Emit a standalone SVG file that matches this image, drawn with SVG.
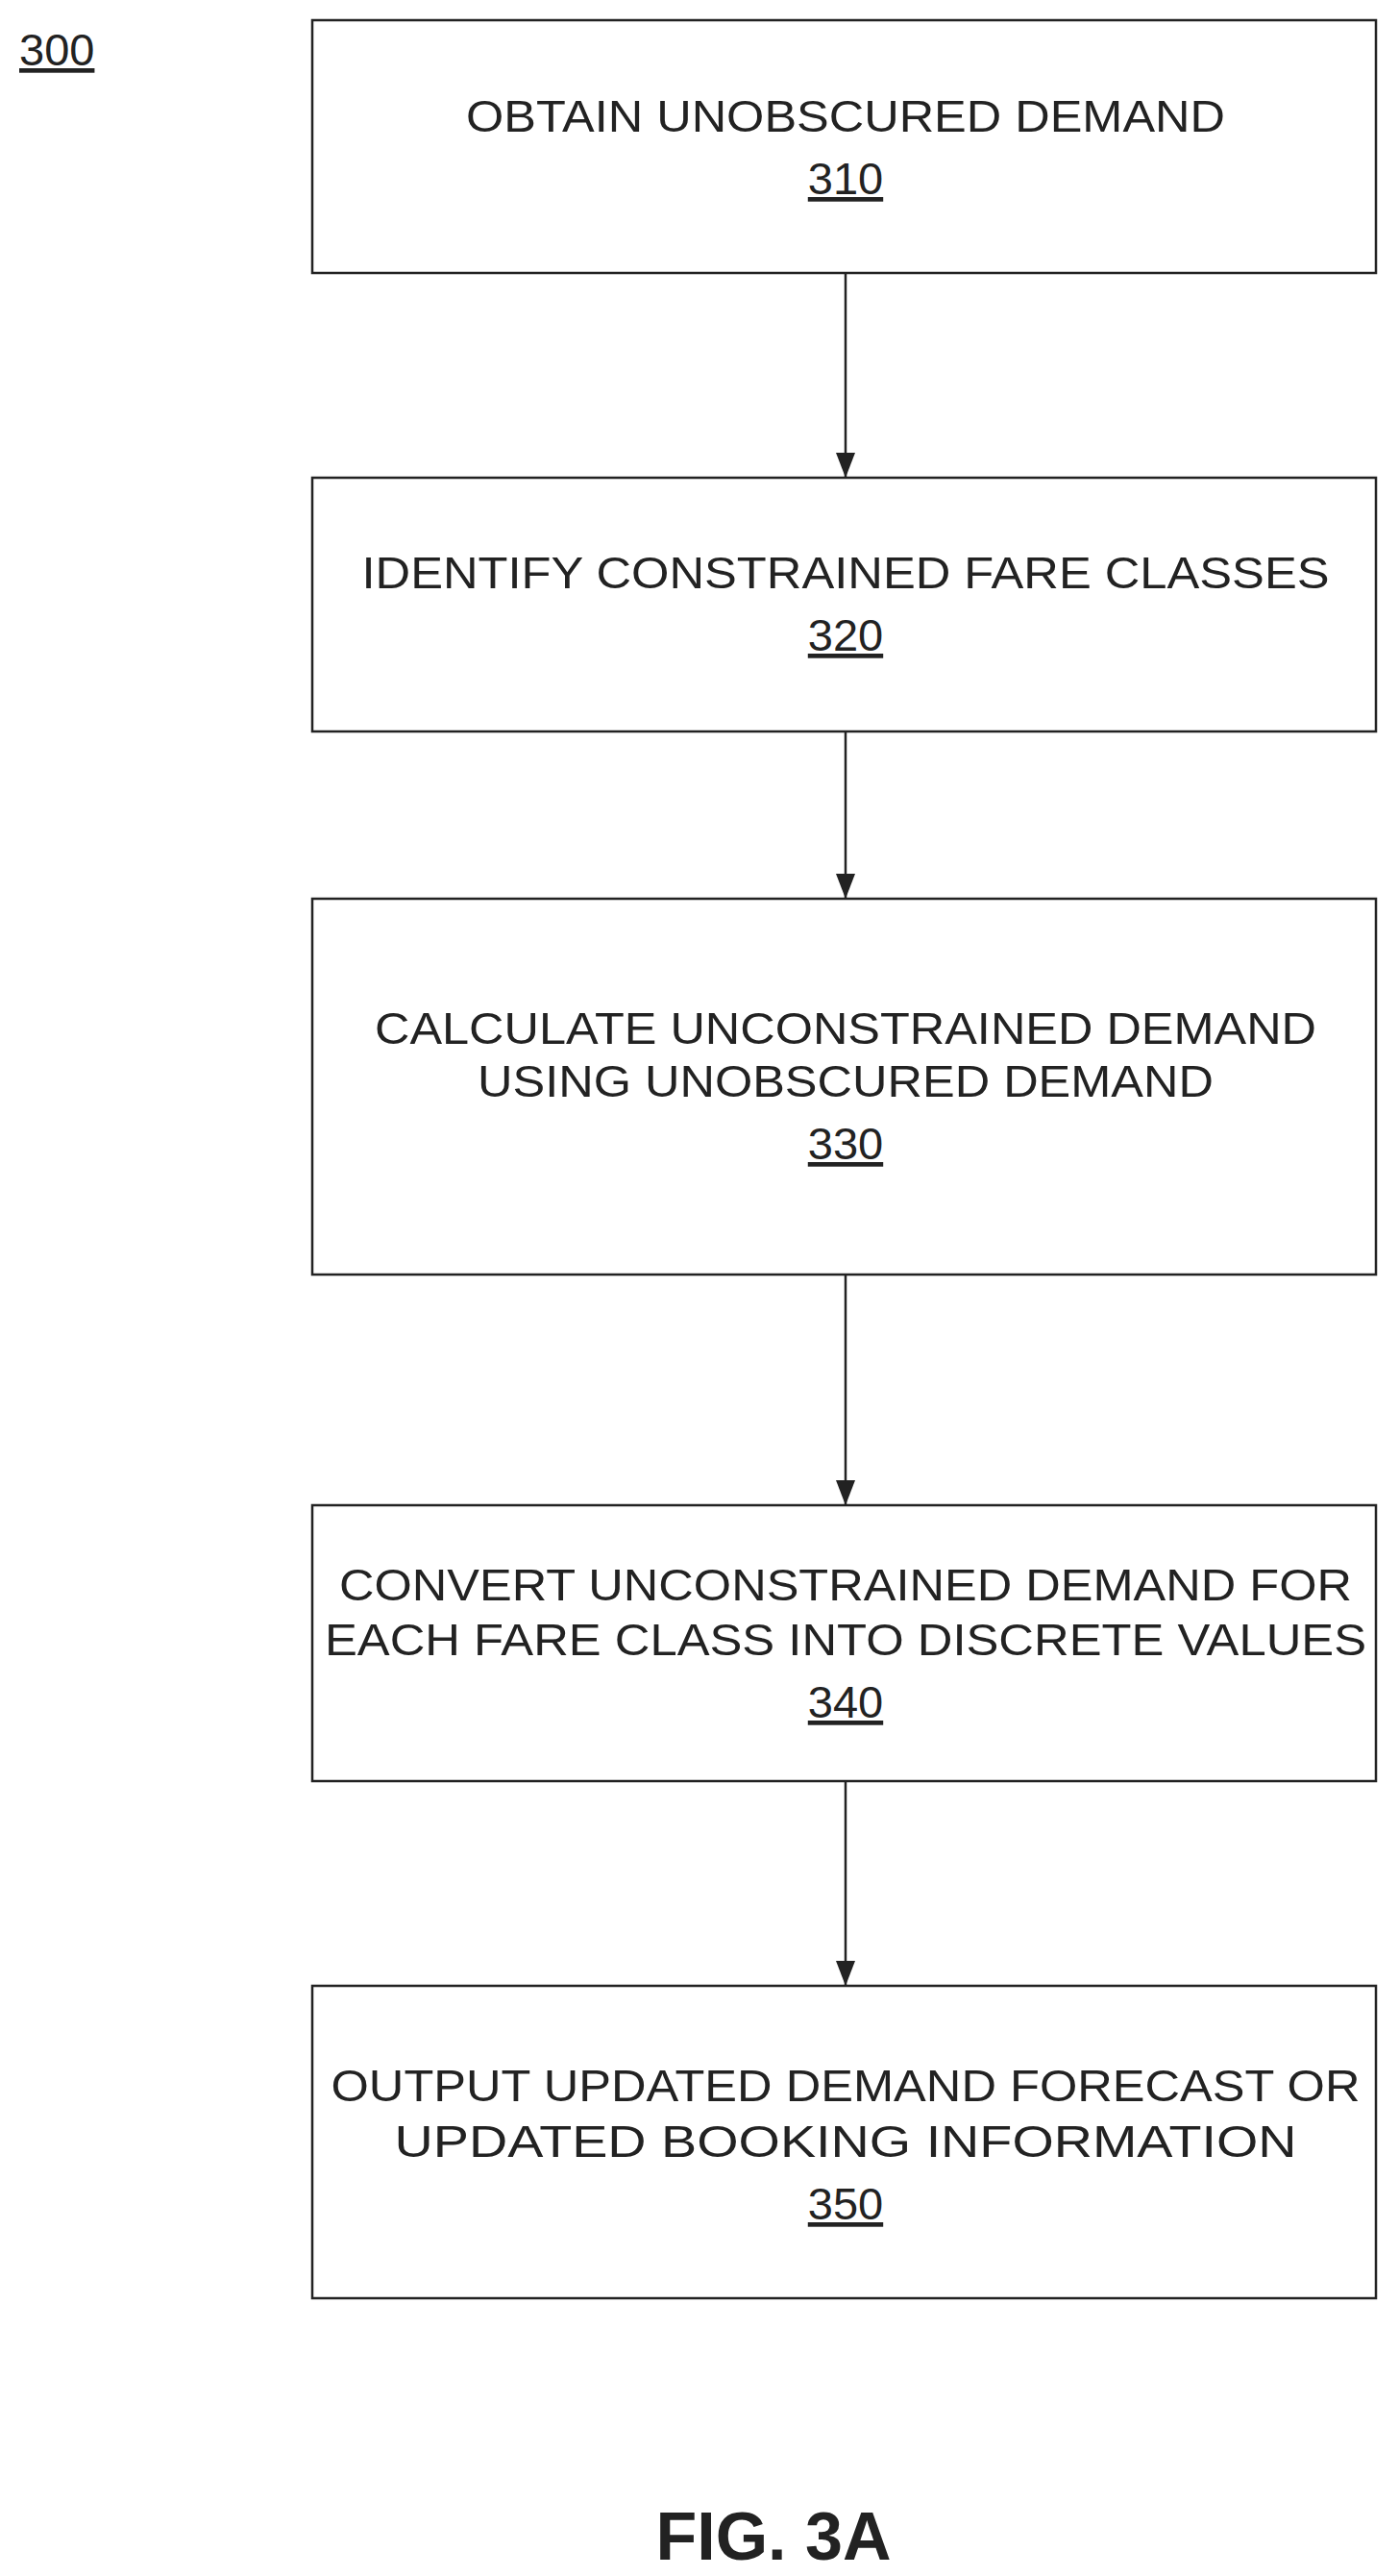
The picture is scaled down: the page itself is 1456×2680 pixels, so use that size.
<svg xmlns="http://www.w3.org/2000/svg" width="1456" height="2680" viewBox="0 0 1456 2680">
<style>
.b{fill:#fff;stroke:#222;stroke-width:2.5}
.t{font-family:"Liberation Sans",Arial,sans-serif;font-size:47px;fill:#222;text-anchor:middle}
.n{text-decoration:underline}
.c{stroke:#222;stroke-width:2.5;fill:none;marker-end:url(#a)}
</style>
<defs><marker id="a" markerWidth="26" markerHeight="20" refX="26" refY="10" orient="auto" markerUnits="userSpaceOnUse"><path d="M0,0 L26,10 L0,20 Z" fill="#222"/></marker></defs>
<rect width="1456" height="2680" fill="#fff"/>
<text x="20" y="68" class="t n" style="text-anchor:start">300</text>
<g id="n310"><rect class="b" x="325" y="21" width="1107" height="263"/>
<text class="t" x="880" y="137" textLength="790" lengthAdjust="spacingAndGlyphs">OBTAIN UNOBSCURED DEMAND</text>
<text class="t n" x="880" y="202">310</text></g>
<g id="n320"><rect class="b" x="325" y="497" width="1107" height="264"/>
<text class="t" x="880" y="612" textLength="1007" lengthAdjust="spacingAndGlyphs">IDENTIFY CONSTRAINED FARE CLASSES</text>
<text class="t n" x="880" y="677">320</text></g>
<g id="n330"><rect class="b" x="325" y="935" width="1107" height="391"/>
<text class="t" x="880" y="1086" textLength="980" lengthAdjust="spacingAndGlyphs">CALCULATE UNCONSTRAINED DEMAND</text>
<text class="t" x="880" y="1141" textLength="766" lengthAdjust="spacingAndGlyphs">USING UNOBSCURED DEMAND</text>
<text class="t n" x="880" y="1206">330</text></g>
<g id="n340"><rect class="b" x="325" y="1566" width="1107" height="287"/>
<text class="t" x="880" y="1665" textLength="1054" lengthAdjust="spacingAndGlyphs">CONVERT UNCONSTRAINED DEMAND FOR</text>
<text class="t" x="880" y="1722" textLength="1084" lengthAdjust="spacingAndGlyphs">EACH FARE CLASS INTO DISCRETE VALUES</text>
<text class="t n" x="880" y="1787">340</text></g>
<g id="n350"><rect class="b" x="325" y="2066" width="1107" height="325"/>
<text class="t" x="880" y="2186" textLength="1071" lengthAdjust="spacingAndGlyphs">OUTPUT UPDATED DEMAND FORECAST OR</text>
<text class="t" x="880" y="2244" textLength="939" lengthAdjust="spacingAndGlyphs">UPDATED BOOKING INFORMATION</text>
<text class="t n" x="880" y="2309">350</text></g>
<g id="connectors">
<line class="c" x1="880" y1="284" x2="880" y2="497"/>
<line class="c" x1="880" y1="761" x2="880" y2="935"/>
<line class="c" x1="880" y1="1326" x2="880" y2="1566"/>
<line class="c" x1="880" y1="1853" x2="880" y2="2066"/>
</g>
<text x="805" y="2663" style="font-family:'Liberation Sans',Arial,sans-serif;font-size:70px;font-weight:bold;text-anchor:middle;fill:#222">FIG. 3A</text>
</svg>
